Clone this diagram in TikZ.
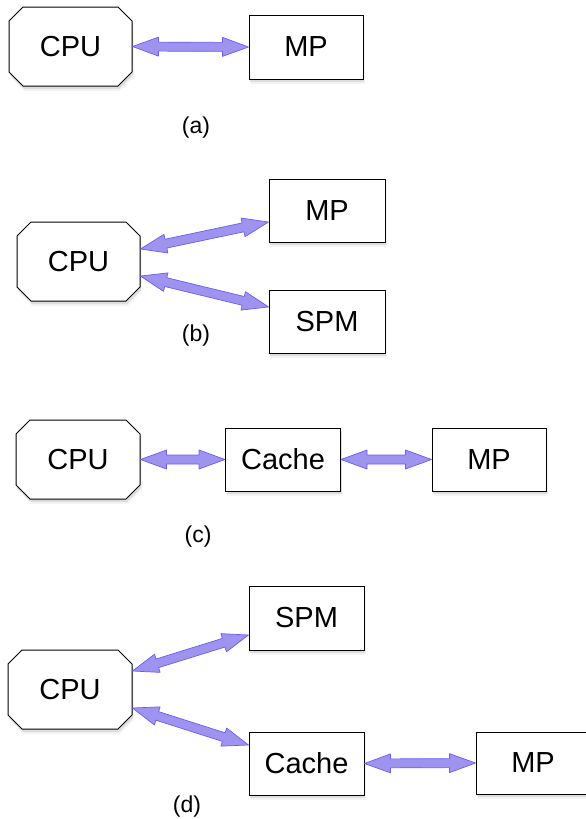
\documentclass[tikz,border=0pt]{standalone}
\usepackage{fontspec}
\setmainfont{Liberation Sans}
\usetikzlibrary{shapes.misc,shadows,calc}
\definecolor{arrline}{RGB}{105,92,245}
\definecolor{arrfill}{RGB}{158,148,240}
\tikzset{
  softshadow/.style={drop shadow={shadow xshift=1.2pt,shadow yshift=-3pt,opacity=0.20},
                     drop shadow={shadow xshift=1.5pt,shadow yshift=-5pt,opacity=0.09}},
  box/.style={draw=black, line width=1pt, fill=white, rectangle, inner sep=0pt,
              font=\fontsize{29}{34}\selectfont, softshadow},
  cpubox/.style={box, chamfered rectangle, chamfered rectangle corners=all,
              chamfered rectangle xsep=7pt, chamfered rectangle ysep=7pt,
              minimum width=123pt, minimum height=79pt},
  lbl/.style={font=\fontsize{23}{27}\selectfont, inner sep=0pt},
  fatarr/.style={draw=arrline, line width=0.7pt, line join=round, fill=arrfill}
}
\newcommand\fatarrow[2]{%
  \path (#1); \pgfgetlastxy{\fax}{\fay}%
  \path (#2); \pgfgetlastxy{\fbx}{\fby}%
  \pgfmathsetmacro\fang{atan2(\fby-\fay,\fbx-\fax)}%
  \pgfmathsetmacro\flen{veclen(\fbx-\fax,\fby-\fay)}%
  \pgfmathsetmacro\fb{\flen-26}%
  \begin{scope}[shift={(\fax,\fay)},rotate=\fang]
    \draw[fatarr] (0pt,0pt) -- (26pt,9.5pt) -- (26pt,4.5pt) -- (\fb pt,4.5pt)
      -- (\fb pt,9.5pt) -- (\flen pt,0pt) -- (\fb pt,-9.5pt) -- (\fb pt,-4.5pt)
      -- (26pt,-4.5pt) -- (26pt,-9.5pt) -- cycle;
  \end{scope}}
\begin{document}
\begin{tikzpicture}[x=1pt,y=-1pt]
\useasboundingbox (0,0) rectangle (586,819);
% (a)
\node[cpubox] (cpuA) at (70.5,46.5) {CPU};
\node[box, minimum width=114pt, minimum height=64pt] (mpA) at (306,47) {MP};
\node[lbl] (la) at (196,128) {(a)};
\fatarrow{cpuA.east}{mpA.west}
% (b)
\node[cpubox] (cpuB) at (78.5,261.5) {CPU};
\node[box, minimum width=116pt, minimum height=63pt] (mpB) at (327,210.5) {MP};
\node[box, minimum width=116pt, minimum height=63pt] (spmB) at (327,321.5) {SPM};
\node[lbl] (lb) at (196,336) {(b)};
\coordinate (b1s) at ([yshift=12.5pt]cpuB.east);
\coordinate (b1e) at ([yshift=-11.5pt]mpB.west);
\coordinate (b2s) at ([yshift=-14.5pt]cpuB.east);
\coordinate (b2e) at ([yshift=14.5pt]spmB.west);
\fatarrow{b1s}{b1e}
\fatarrow{b2s}{b2e}
% (c)
\node[cpubox, minimum width=124pt] (cpuC) at (78,459.5) {CPU};
\node[box, minimum width=115pt, minimum height=63pt] (cacheC) at (283,459.5) {Cache};
\node[box, minimum width=114pt, minimum height=63pt] (mpC) at (489,459.5) {MP};
\node[lbl] (lc) at (198,537) {(c)};
\fatarrow{cpuC.east}{cacheC.west}
\fatarrow{cacheC.east}{mpC.west}
% (d)
\node[cpubox, minimum width=124pt] (cpuD) at (70,689.5) {CPU};
\node[box, minimum width=115pt, minimum height=64pt] (spmD) at (306.5,618) {SPM};
\node[box, minimum width=115pt, minimum height=63pt] (cacheD) at (306.5,763.5) {Cache};
\node[box, minimum width=114pt, minimum height=62pt] (mpD) at (533,763) {MP};
\node[lbl] (ld) at (187,807) {(d)};
\coordinate (d1s) at ([yshift=18.5pt]cpuD.east);
\coordinate (d1e) at ([yshift=-17pt]spmD.west);
\coordinate (d2s) at ([yshift=-18.5pt]cpuD.east);
\coordinate (d2e) at ([yshift=18.5pt]cacheD.west);
\fatarrow{d1s}{d1e}
\fatarrow{d2s}{d2e}
\fatarrow{cacheD.east}{mpD.west}
\end{tikzpicture}
\end{document}
